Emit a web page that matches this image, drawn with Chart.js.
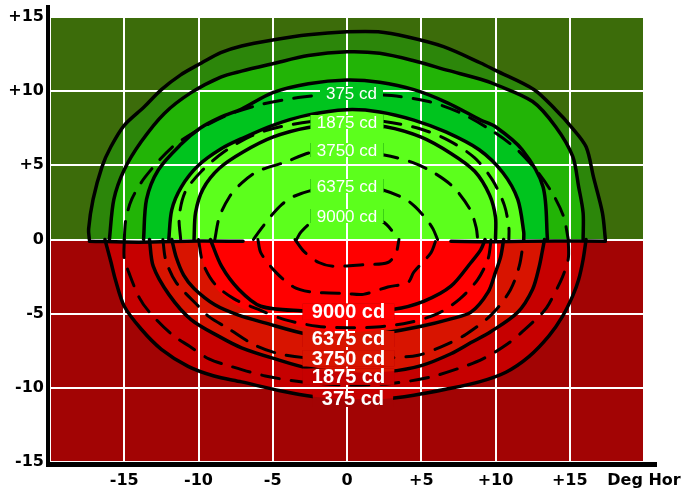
<!DOCTYPE html>
<html>
<head>
<meta charset="utf-8">
<script src="https://cdn.jsdelivr.net/npm/chart.js@4.4.1/dist/chart.umd.min.js"></script>
<style>
  html, body { margin: 0; padding: 0; background: #fff; }
  #wrap { width: 685px; height: 490px; }
</style>
</head>
<body>
<div id="wrap"><canvas id="chart" width="685" height="490"></canvas></div>
<script>
// axis ticks (degrees)
const xTicks = [-20, -15, -10, -5, 0, 5, 10, 15, 20];
const yTicks = [-15, -10, -5, 0, 5, 10, 15];

// background halves
const upperZone = [[-20, 0], [20, 0], [20, 15], [-20, 15]];
const lowerZone = [[-20, 0], [20, 0], [20, -15], [-20, -15]];

// solid contours, upper half (deg hor, deg vert)
const top1 = [[-17.35, 0], [-17.4, 0.7], [-17.1, 2.7], [-16.5, 4.9], [-15.9, 6.25], [-15.0, 7.7], [-13.65, 8.95], [-12.5, 10.1], [-11.2, 11.1], [-9.8, 11.9], [-8.5, 12.6], [-7.1, 13.05], [-5.0, 13.45], [-2.6, 13.8], [0, 14.0], [2.1, 14.0], [4.1, 13.65], [6.5, 13.0], [9.0, 11.9], [10.0, 11.4], [12.6, 10.1], [14.05, 8.75], [15.1, 7.6], [16.1, 6.25], [16.6, 4.2], [17.2, 1.8], [17.4, 0]];
const top2 = [[-16.0, 0], [-15.7, 2.7], [-15.0, 4.7], [-13.85, 6.6], [-12.3, 8.5], [-10.5, 9.9], [-8.5, 10.95], [-7.1, 11.35], [-5.0, 11.85], [-2.6, 12.4], [0, 12.65], [2.2, 12.55], [4.5, 12.05], [6.8, 11.4], [9.0, 10.8], [10.0, 10.45], [12.5, 9.3], [14.05, 7.6], [15.2, 5.6], [15.6, 3.55], [15.9, 1.8], [15.9, 0]];
const top3 = [[-13.7, 0], [-13.5, 2.7], [-12.7, 4.7], [-11.2, 6.4], [-9.9, 7.5], [-8.5, 8.25], [-7.1, 8.8], [-5.0, 9.9], [-2.6, 10.5], [0, 10.75], [2.2, 10.6], [4.5, 10.1], [6.8, 9.2], [9.0, 8.05], [10.0, 7.6], [11.8, 6.05], [13.2, 3.55], [13.5, 0]];
const top4 = [[-12.0, 0], [-11.8, 2.0], [-11.15, 3.55], [-10.0, 5.0], [-8.5, 6.1], [-7.1, 6.8], [-5.0, 7.7], [-2.6, 8.4], [0, 8.75], [2.2, 8.6], [4.5, 8.05], [6.65, 7.25], [8.9, 6.05], [10.5, 4.5], [11.5, 2.7], [11.9, 0.5], [11.9, 0]];
const top5 = [[-10.3, 0], [-10.2, 1.8], [-9.7, 3.4], [-8.6, 4.8], [-7.0, 5.9], [-5.0, 6.9], [-2.6, 7.55], [0, 7.8], [2.6, 7.6], [5.0, 6.9], [7.0, 5.8], [8.6, 4.6], [9.6, 3.0], [10.0, 1.5], [10.0, 0]];

// dashed contours, upper half
const dashTop375 = [[-15.0, 0], [-14.9, 1.3], [-14.5, 2.7], [-13.6, 4.2], [-11.8, 6.2], [-10.0, 7.4], [-8.0, 8.4], [-5.8, 9.1], [-3.0, 9.6], [0, 9.85], [3.0, 9.7], [5.5, 9.3], [7.5, 8.6], [9.5, 7.5], [11.3, 6.2], [12.8, 4.6], [13.9, 3.0], [14.6, 1.5], [14.9, 0]];
const dashTop1875 = [[-11.2, 0], [-11.3, 1.5], [-10.9, 3.2], [-9.8, 4.6], [-8.3, 5.9], [-6.4, 7.0], [-4.5, 7.6], [-2.0, 8.0], [0, 8.1], [2.5, 7.95], [4.8, 7.5], [6.8, 6.7], [8.6, 5.5], [9.8, 4.0], [10.6, 2.3], [10.9, 0.8], [10.9, 0]];
const dashTop3750 = [[-8.9, 0], [-8.6, 1.5], [-7.9, 2.9], [-7.1, 3.8], [-6.0, 4.6], [-4.2, 5.2], [-2.3, 5.9], [0, 6.0], [2.5, 5.7], [4.4, 5.2], [5.85, 4.5], [7.2, 3.5], [8.3, 2.0], [8.7, 0.8], [8.8, 0]];
const dashTop6375 = [[-6.3, 0], [-5.8, 0.7], [-5.1, 1.6], [-4.4, 2.35], [-3.6, 2.9], [-2.0, 3.4], [0, 3.6], [2.0, 3.45], [3.8, 2.8], [4.6, 2.2], [5.4, 1.3], [5.8, 0.7], [6.1, 0]];
const dashTop9000 = [[-3.4, 0], [-3.1, 0.5], [-2.3, 1.2], [-1.0, 1.55], [0, 1.6], [1.2, 1.5], [2.4, 1.2], [3.1, 0.5], [3.3, 0]];

// solid contours, lower half
const bottom1 = [[-16.3, 0], [-15.9, -1.5], [-15.6, -2.7], [-15.0, -4.5], [-13.85, -6.05], [-12.5, -7.4], [-10.7, -8.55], [-8.95, -9.2], [-7.1, -9.6], [-4.5, -10.2], [-2.2, -10.6], [0, -10.75], [2.5, -10.75], [4.5, -10.5], [6.65, -10.1], [8.9, -9.6], [10.7, -8.95], [12.25, -7.9], [13.6, -6.5], [14.5, -5.2], [15.2, -3.8], [15.6, -2.7], [15.9, -1.35], [16.1, 0]];
const bottom2 = [[-13.3, 0], [-13.05, -1.8], [-12.0, -3.7], [-10.5, -5.4], [-8.5, -6.6], [-7.1, -7.3], [-5.0, -8.0], [-2.5, -8.7], [0, -8.95], [2.75, -8.9], [5.0, -8.5], [7.0, -7.7], [8.35, -6.95], [9.7, -6.2], [11.5, -4.9], [12.5, -3.35], [12.95, -1.8], [13.15, -0.8], [13.3, 0]];
const bottom3 = [[-11.8, 0], [-11.5, -1.2], [-11.0, -2.4], [-10.3, -3.3], [-8.9, -4.4], [-7.3, -5.1], [-5.6, -5.6], [-2.6, -6.4], [0, -6.6], [2.5, -6.3], [5.0, -5.85], [7.0, -5.35], [8.35, -4.9], [9.5, -3.55], [10.0, -2.2], [10.35, -1.15], [10.55, 0]];
const bottom4 = [[-9.2, 0], [-8.45, -1.8], [-7.3, -3.35], [-5.8, -4.5], [-3.1, -4.8], [0, -4.85], [3.15, -4.7], [5.2, -4.15], [7.0, -3.15], [8.35, -1.55], [9.0, -0.7], [9.3, 0]];
const hotZone = [[-10.0, 0], [-9.6, -1.8], [-8.8, -3.3], [-7.5, -4.4], [-5.6, -5.2], [-2.6, -6.0], [0, -6.25], [2.5, -6.05], [5.0, -5.65], [7.0, -5.2], [8.35, -4.9], [9.5, -3.55], [10.0, -2.2], [10.35, -1.15], [10.55, 0]];

// dashed contours, lower half
const dashLow375 = [[-15.0, 0], [-15.0, -1.3], [-14.7, -2.2], [-14.0, -3.9], [-13.3, -4.9], [-11.8, -6.4], [-10.6, -7.2], [-9.3, -8.05], [-8.0, -8.5], [-5.5, -9.2], [-3.0, -9.6], [0, -9.8], [3.0, -9.7], [5.5, -9.3], [7.5, -8.7], [9.15, -8.05], [10.8, -7.05], [12.0, -6.05], [13.2, -4.9], [13.6, -4.35], [14.5, -2.55], [14.9, -1.3], [14.9, 0]];
const dashLow3750 = [[-12.4, 0], [-12.2, -1.4], [-11.5, -2.9], [-10.0, -4.5], [-9.3, -5.2], [-8.0, -6.0], [-6.25, -7.1], [-4.6, -7.7], [-2.5, -8.0], [0, -8.1], [2.5, -8.0], [4.8, -7.8], [6.3, -7.25], [8.0, -6.4], [9.8, -5.0], [11.0, -3.4], [11.6, -1.8], [11.9, 0]];
const dashLow6375 = [[-10.0, 0], [-9.7, -1.6], [-8.9, -3.0], [-7.6, -4.0], [-6.0, -4.7], [-4.2, -5.4], [-2.0, -5.85], [0, -5.95], [2.0, -5.9], [4.2, -5.6], [6.1, -5.0], [7.6, -4.0], [8.8, -2.7], [9.5, -1.3], [9.7, 0]];
const dashLow9000a = [[-6.0, 0], [-5.8, -0.9], [-4.8, -2.2], [-3.6, -3.2], [-2.4, -3.55], [-1.2, -3.6], [0, -3.65], [1.1, -3.7], [2.75, -3.2], [4.1, -2.9], [4.5, -2.2], [5.65, -0.9], [6.0, 0]];
const dashLow9000b = [[-3.5, 0], [-2.9, -0.8], [-1.9, -1.55], [-0.9, -1.8], [1.1, -1.7], [2.75, -1.55], [3.3, -0.9], [3.5, 0]];

// seam lines along the horizon
const seamLeft = [[-17.35, -0.12], [-14, -0.18], [-10, -0.1], [-7, -0.12]];
const seamRight = [[7, -0.12], [10, -0.15], [14, -0.1], [17.4, -0.12]];

// in-plot labels
const labelText = ['375 cd', '1875 cd', '3750 cd', '6375 cd', '9000 cd', '9000 cd', '6375 cd', '3750 cd', '1875 cd', '375 cd'];
const labelX = [0.3, 0, 0, 0, 0, 0.1, 0.1, 0.1, 0.1, 0.4];
const labelY = [9.88, 7.92, 6.03, 3.6, 1.58, -4.87, -6.7, -8.0, -9.25, -10.75];
const labelBold = [false, false, false, false, false, true, true, true, true, true];

const colors = {
  upper: '#3c6c0a',
  green1: '#2c860a',
  green2: '#22b406',
  green3: '#00c41e',
  lime: '#5cff1c',
  lower: '#a20404',
  red1: '#c60000',
  red2: '#d81400',
  red3: '#ff0000'
};

const pts = arr => arr.map(([x, y]) => ({ x, y }));

function zone(data, color, order, tension) {
  return {
    data: pts(data),
    showLine: true,
    fill: 'shape',
    backgroundColor: color,
    borderColor: 'rgba(0,0,0,0)',
    borderWidth: 1,
    tension: tension,
    pointRadius: 0,
    order
  };
}

function contour(data, dashed) {
  return {
    data: pts(data),
    showLine: true,
    fill: false,
    borderColor: '#000',
    borderWidth: dashed ? 3 : 3.5,
    borderDash: dashed ? [18, 12] : [],
    borderCapStyle: 'round',
    borderJoinStyle: 'round',
    tension: 0.3,
    pointRadius: 0,
    order: 0
  };
}

// redraw the fills under each label so the lines and grid break there
const labelPlugin = {
  id: 'cdLabels',
  afterDatasetsDraw(chart) {
    const { ctx, scales } = chart;
    const fills = chart.getSortedVisibleDatasetMetas()
      .filter(m => m.dataset && m.dataset.options.fill)
      .reverse();
    labelText.forEach((text, i) => {
      const bold = labelBold[i];
      ctx.font = bold ? 'bold 20px "Liberation Sans", Arial, sans-serif' : '17px "Liberation Sans", Arial, sans-serif';
      const w = ctx.measureText(text).width;
      const px = scales.x.getPixelForValue(labelX[i]);
      const py = scales.y.getPixelForValue(labelY[i]);
      const padX = bold ? 9 : 6;
      const h = bold ? 16 : 14;
      ctx.save();
      ctx.beginPath();
      ctx.rect(px - w / 2 - padX, py - h / 2, w + padX * 2, h);
      ctx.clip();
      fills.forEach(m => {
        ctx.fillStyle = m.dataset.options.backgroundColor;
        ctx.beginPath();
        m.dataset.path(ctx);
        ctx.closePath();
        ctx.fill();
      });
      ctx.restore();
      ctx.fillStyle = '#fff';
      ctx.textAlign = 'center';
      ctx.textBaseline = 'middle';
      ctx.fillText(text, px, py + 1);
    });
  }
};

const axisPlugin = {
  id: 'blackAxes',
  afterDraw(chart) {
    const { ctx, chartArea } = chart;
    ctx.save();
    ctx.fillStyle = '#000';
    ctx.fillRect(chartArea.left - 4, 5, 4, chartArea.bottom + 5 - 5);
    ctx.fillRect(chartArea.left - 4, chartArea.bottom, 611, 5);
    ctx.restore();
  }
};

const tickFont = { family: '"DejaVu Sans", sans-serif', size: 16, weight: 'bold' };

new Chart(document.getElementById('chart'), {
  type: 'scatter',
  data: {
    datasets: [
      zone(upperZone, colors.upper, 30, 0),
      zone(lowerZone, colors.lower, 30, 0),
      zone(top1, colors.green1, 29, 0.3),
      zone(top2, colors.green2, 28, 0.3),
      zone(top3, colors.green3, 27, 0.3),
      zone(top4, colors.lime, 26, 0.3),
      zone(bottom1, colors.red1, 25, 0.3),
      zone(bottom2, colors.red2, 24, 0.3),
      zone(hotZone, colors.red3, 23, 0.3),
      contour(top1), contour(top2), contour(top3), contour(top4), contour(top5),
      contour(dashTop375, true), contour(dashTop1875, true), contour(dashTop3750, true),
      contour(dashTop6375, true), contour(dashTop9000, true),
      contour(bottom1), contour(bottom2), contour(bottom3), contour(bottom4),
      contour(dashLow375, true), contour(dashLow3750, true), contour(dashLow6375, true),
      contour(dashLow9000a, true), contour(dashLow9000b, true),
      contour(seamLeft), contour(seamRight)
    ]
  },
  options: {
    responsive: false,
    animation: false,
    events: [],
    layout: { padding: { top: 17, right: 41, left: 0, bottom: 0 } },
    plugins: {
      legend: { display: false },
      tooltip: { enabled: false },
      filler: { drawTime: 'beforeDraw' }
    },
    scales: {
      x: {
        type: 'linear',
        min: -20,
        max: 20,
        afterBuildTicks: scale => { scale.ticks = xTicks.map(v => ({ value: v })); },
        afterFit: scale => {
          scale.height = 28;
          scale.paddingLeft = 0;
          scale.paddingRight = 0;
        },
        ticks: {
          autoSkip: false,
          maxRotation: 0,
          padding: 9,
          color: '#000',
          font: tickFont,
          callback: v => v === -20 ? '' : v === 20 ? 'Deg Hor' : v > 0 ? '+' + v : String(v)
        },
        grid: { color: '#fff', lineWidth: 2, drawTicks: false },
        border: { display: false }
      },
      y: {
        type: 'linear',
        min: -15,
        max: 15,
        afterBuildTicks: scale => { scale.ticks = yTicks.map(v => ({ value: v })); },
        afterFit: scale => { scale.width = 50; },
        ticks: {
          autoSkip: false,
          padding: 6,
          color: '#000',
          font: tickFont,
          callback: v => v > 0 ? '+' + v : String(v)
        },
        grid: { color: '#fff', lineWidth: 2, drawTicks: false },
        border: { display: false }
      }
    }
  },
  plugins: [labelPlugin, axisPlugin]
});
</script>
</body>
</html>
